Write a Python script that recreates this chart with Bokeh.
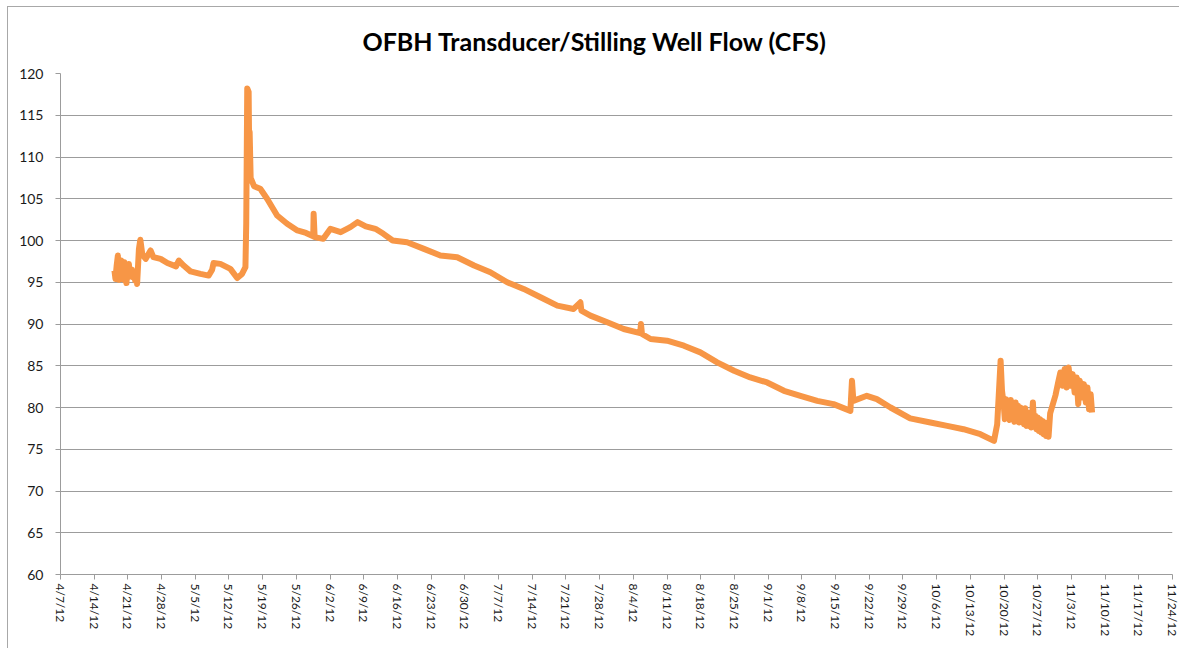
import math
import pandas as pd
from bokeh.plotting import figure
from bokeh.models import FixedTicker, Range1d
from bokeh.embed import file_html
from bokeh.resources import INLINE

title_text = "OFBH Transducer/Stilling Well Flow (CFS)"

# readings (timestamp, flow in CFS), kept as two parallel lists
timestamps = [
    # Apr 18 - 23 : noisy start
    "2012-04-18 05:00", "2012-04-18 10:00", "2012-04-18 16:00", "2012-04-18 22:00",
    "2012-04-19 02:00", "2012-04-19 06:00", "2012-04-19 10:00", "2012-04-19 14:00",
    "2012-04-19 18:00", "2012-04-19 22:00", "2012-04-20 02:00", "2012-04-20 06:00",
    "2012-04-20 10:00", "2012-04-20 14:00", "2012-04-20 17:00", "2012-04-20 21:00",
    "2012-04-21 01:00", "2012-04-21 05:00", "2012-04-21 09:00", "2012-04-21 13:00",
    "2012-04-21 17:00", "2012-04-21 21:00", "2012-04-22 01:00", "2012-04-22 06:00",
    "2012-04-22 12:00", "2012-04-22 17:00", "2012-04-22 22:00", "2012-04-23 07:00",
    # Apr 23 - May 15
    "2012-04-23 14:00", "2012-04-24 00:00", "2012-04-24 17:00", "2012-04-25 17:00",
    "2012-04-26 07:00", "2012-04-27 19:00", "2012-04-29 05:00", "2012-05-01 00:00",
    "2012-05-01 14:00", "2012-05-02 14:00", "2012-05-04 00:00", "2012-05-06 02:00",
    "2012-05-07 19:00", "2012-05-08 12:00", "2012-05-08 19:00", "2012-05-10 05:00",
    "2012-05-12 07:00", "2012-05-13 17:00", "2012-05-14 17:00", "2012-05-15 10:00",
    # spike and recession
    "2012-05-15 14:00", "2012-05-15 19:00", "2012-05-16 02:00", "2012-05-16 05:00",
    "2012-05-16 07:00", "2012-05-16 12:00", "2012-05-17 05:00", "2012-05-18 12:00",
    "2012-05-19 22:00", "2012-05-22 00:00", "2012-05-24 02:00", "2012-05-26 05:00",
    "2012-05-28 00:00", "2012-05-29 12:00", "2012-05-29 14:00", "2012-05-29 19:00",
    "2012-05-31 14:00", "2012-06-02 02:00", "2012-06-04 05:00", "2012-06-06 05:00",
    "2012-06-07 17:00", "2012-06-09 10:00", "2012-06-11 10:00", "2012-06-13 02:00",
    # long decline
    "2012-06-15 00:00", "2012-06-18 00:00", "2012-06-21 12:00", "2012-06-24 22:00",
    "2012-06-28 10:00", "2012-07-01 22:00", "2012-07-05 07:00", "2012-07-08 19:00",
    "2012-07-12 05:00", "2012-07-15 17:00", "2012-07-19 05:00", "2012-07-22 14:00",
    "2012-07-24 00:00", "2012-07-24 05:00", "2012-07-26 02:00", "2012-07-29 14:00",
    "2012-08-02 00:00", "2012-08-05 10:00", "2012-08-05 14:00", "2012-08-05 19:00",
    "2012-08-07 14:00", "2012-08-11 00:00", "2012-08-14 12:00", "2012-08-17 22:00",
    "2012-08-21 10:00", "2012-08-24 22:00", "2012-08-28 07:00", "2012-08-31 19:00",
    "2012-09-04 07:00", "2012-09-07 17:00", "2012-09-11 05:00", "2012-09-14 14:00",
    "2012-09-18 02:00", "2012-09-18 10:00", "2012-09-18 17:00", "2012-09-21 12:00",
    "2012-09-23 14:00", "2012-09-26 10:00", "2012-09-30 12:00", "2012-10-04 17:00",
    "2012-10-08 05:00", "2012-10-11 14:00", "2012-10-15 02:00", "2012-10-17 22:00",
    # Oct 18 spike and noisy band
    "2012-10-18 14:00", "2012-10-19 07:00", "2012-10-19 14:00", "2012-10-19 22:00",
    "2012-10-20 04:00", "2012-10-20 10:00", "2012-10-20 16:00", "2012-10-20 22:00",
    "2012-10-21 04:00", "2012-10-21 10:00", "2012-10-21 16:00", "2012-10-21 22:00",
    "2012-10-22 04:00", "2012-10-22 10:00", "2012-10-22 16:00", "2012-10-22 22:00",
    "2012-10-23 04:00", "2012-10-23 10:00", "2012-10-23 16:00", "2012-10-23 22:00",
    "2012-10-24 04:00", "2012-10-24 10:00", "2012-10-24 16:00", "2012-10-24 22:00",
    "2012-10-25 04:00", "2012-10-25 10:00", "2012-10-25 16:00", "2012-10-26 00:00",
    "2012-10-26 06:00", "2012-10-26 12:00", "2012-10-26 18:00", "2012-10-27 00:00",
    "2012-10-27 06:00", "2012-10-27 12:00", "2012-10-27 18:00", "2012-10-28 00:00",
    "2012-10-28 06:00", "2012-10-28 12:00", "2012-10-28 18:00", "2012-10-29 00:00",
    "2012-10-29 06:00", "2012-10-29 14:00",
    # rise and final days
    "2012-10-30 17:00", "2012-10-31 06:00", "2012-10-31 17:00", "2012-11-01 04:00",
    "2012-11-01 14:00", "2012-11-02 00:00", "2012-11-02 10:00", "2012-11-02 20:00",
    "2012-11-03 06:00", "2012-11-03 16:00", "2012-11-04 02:00", "2012-11-04 10:00",
    "2012-11-04 18:00", "2012-11-05 04:00", "2012-11-05 14:00", "2012-11-06 00:00",
    "2012-11-06 08:00", "2012-11-06 16:00", "2012-11-07 00:00", "2012-11-07 07:00",
]

flow_cfs = [
    # Apr 18 - 23
    96.4, 95.4, 97.0, 98.2,
    95.3, 97.4, 95.5, 97.6,
    95.4, 97.3, 95.6, 97.4,
    95.2, 96.8, 94.9, 96.6,
    95.6, 97.2, 95.8, 96.6,
    95.7, 96.5, 95.6, 96.3,
    95.2, 96.0, 94.8, 99.0,
    # Apr 23 - May 15
    100.1, 98.3, 97.8, 98.8,
    98.0, 97.8, 97.3, 96.9,
    97.6, 97.0, 96.3, 96.0,
    95.8, 96.5, 97.3, 97.2,
    96.6, 95.5, 96.0, 96.8,
    # spike and recession
    102.0, 118.2, 117.8, 110.0,
    113.0, 107.5, 106.5, 106.2,
    105.0, 103.0, 102.0, 101.2,
    100.9, 100.5, 103.2, 100.4,
    100.2, 101.4, 101.0, 101.6,
    102.2, 101.7, 101.4, 100.8,
    # long decline
    100.0, 99.8, 99.0, 98.2,
    98.0, 97.0, 96.2, 95.0,
    94.2, 93.2, 92.2, 91.8,
    92.6, 91.6, 91.0, 90.2,
    89.4, 88.9, 90.0, 88.8,
    88.2, 88.0, 87.4, 86.6,
    85.4, 84.4, 83.6, 83.0,
    82.0, 81.4, 80.8, 80.4,
    79.6, 83.2, 80.8, 81.4,
    81.0, 80.0, 78.7, 78.2,
    77.8, 77.4, 76.8, 76.0,
    # Oct 18 spike and noisy band
    78.0, 85.6, 82.0, 80.5,
    78.6, 81.0, 78.8, 80.8,
    78.5, 80.9, 78.9, 80.4,
    78.3, 80.6, 78.5, 80.2,
    78.2, 80.0, 78.4, 79.6,
    78.0, 79.9, 77.8, 79.4,
    77.8, 79.2, 77.6, 80.6,
    77.8, 79.0, 77.4, 78.8,
    77.2, 78.6, 77.0, 78.4,
    76.8, 78.2, 76.6, 77.8,
    76.5, 79.3,
    # rise and final days
    81.5, 83.0, 84.2, 82.6,
    84.6, 82.4, 84.8, 82.6,
    84.0, 81.8, 83.6, 80.4,
    83.2, 81.2, 82.8, 80.6,
    82.4, 79.8, 81.6, 79.4,
]

x_tick_dates = [
    "2012-04-07", "2012-04-14", "2012-04-21", "2012-04-28", "2012-05-05",
    "2012-05-12", "2012-05-19", "2012-05-26", "2012-06-02", "2012-06-09",
    "2012-06-16", "2012-06-23", "2012-06-30", "2012-07-07", "2012-07-14",
    "2012-07-21", "2012-07-28", "2012-08-04", "2012-08-11", "2012-08-18",
    "2012-08-25", "2012-09-01", "2012-09-08", "2012-09-15", "2012-09-22",
    "2012-09-29", "2012-10-06", "2012-10-13", "2012-10-20", "2012-10-27",
    "2012-11-03", "2012-11-10", "2012-11-17", "2012-11-24",
]
x_tick_labels = [
    "4/7/12", "4/14/12", "4/21/12", "4/28/12", "5/5/12",
    "5/12/12", "5/19/12", "5/26/12", "6/2/12", "6/9/12",
    "6/16/12", "6/23/12", "6/30/12", "7/7/12", "7/14/12",
    "7/21/12", "7/28/12", "8/4/12", "8/11/12", "8/18/12",
    "8/25/12", "9/1/12", "9/8/12", "9/15/12", "9/22/12",
    "9/29/12", "10/6/12", "10/13/12", "10/20/12", "10/27/12",
    "11/3/12", "11/10/12", "11/17/12", "11/24/12",
]
y_ticks = [60, 65, 70, 75, 80, 85, 90, 95, 100, 105, 110, 115, 120]

tick_ms = [int(pd.Timestamp(d).value // 10**6) for d in x_tick_dates]
x_vals = pd.to_datetime(timestamps)

FONT = "Lato"
GRID = "#9c9c9c"

p = figure(
    x_axis_type="datetime",
    frame_width=1112, frame_height=501,
    min_border_left=52, min_border_top=66, min_border_right=7, min_border_bottom=74,
    output_backend="svg", toolbar_location=None,
    x_range=Range1d(tick_ms[0], tick_ms[-1]),
    y_range=Range1d(y_ticks[0], y_ticks[-1]),
)
p.styles = {
    "margin-left": "7px", "margin-top": "6px",
    "border-left": "1px solid #a8a8a8", "border-top": "1px solid #a8a8a8",
}
p.outline_line_color = None
p.background_fill_color = "white"
p.border_fill_color = "white"

p.title.text = title_text
p.title.align = "left"
p.title.offset = 302
p.title.vertical_align = "top"
p.title.standoff = 31
p.title.text_font = FONT
p.title.text_font_style = "bold"
p.title.text_font_size = "25px"
p.title.text_color = "#000000"

p.line(x_vals, flow_cfs, line_color="#F79646", line_width=6, line_join="round")

p.xaxis.ticker = FixedTicker(ticks=tick_ms)
p.xaxis.major_label_overrides = dict(zip(tick_ms, x_tick_labels))
p.xaxis.major_label_orientation = -math.pi / 2
p.xaxis.minor_tick_line_color = None
p.xaxis.major_label_standoff = 4
p.xaxis.major_label_text_font_size = "12px"

p.yaxis.ticker = FixedTicker(ticks=y_ticks)
p.yaxis.minor_tick_line_color = None
p.yaxis.major_label_standoff = 12
p.yaxis.major_label_text_font_size = "14px"

for ax in (p.xaxis, p.yaxis):
    ax.axis_line_color = GRID
    ax.major_tick_line_color = GRID
    ax.major_tick_in = 0
    ax.major_tick_out = 5
    ax.major_label_text_font = FONT
    ax.major_label_text_color = "#1a1a1a"

p.xgrid.visible = False
p.ygrid.grid_line_color = GRID
p.ygrid.grid_line_width = 1

open("out.html", "w").write(file_html(p, INLINE))
